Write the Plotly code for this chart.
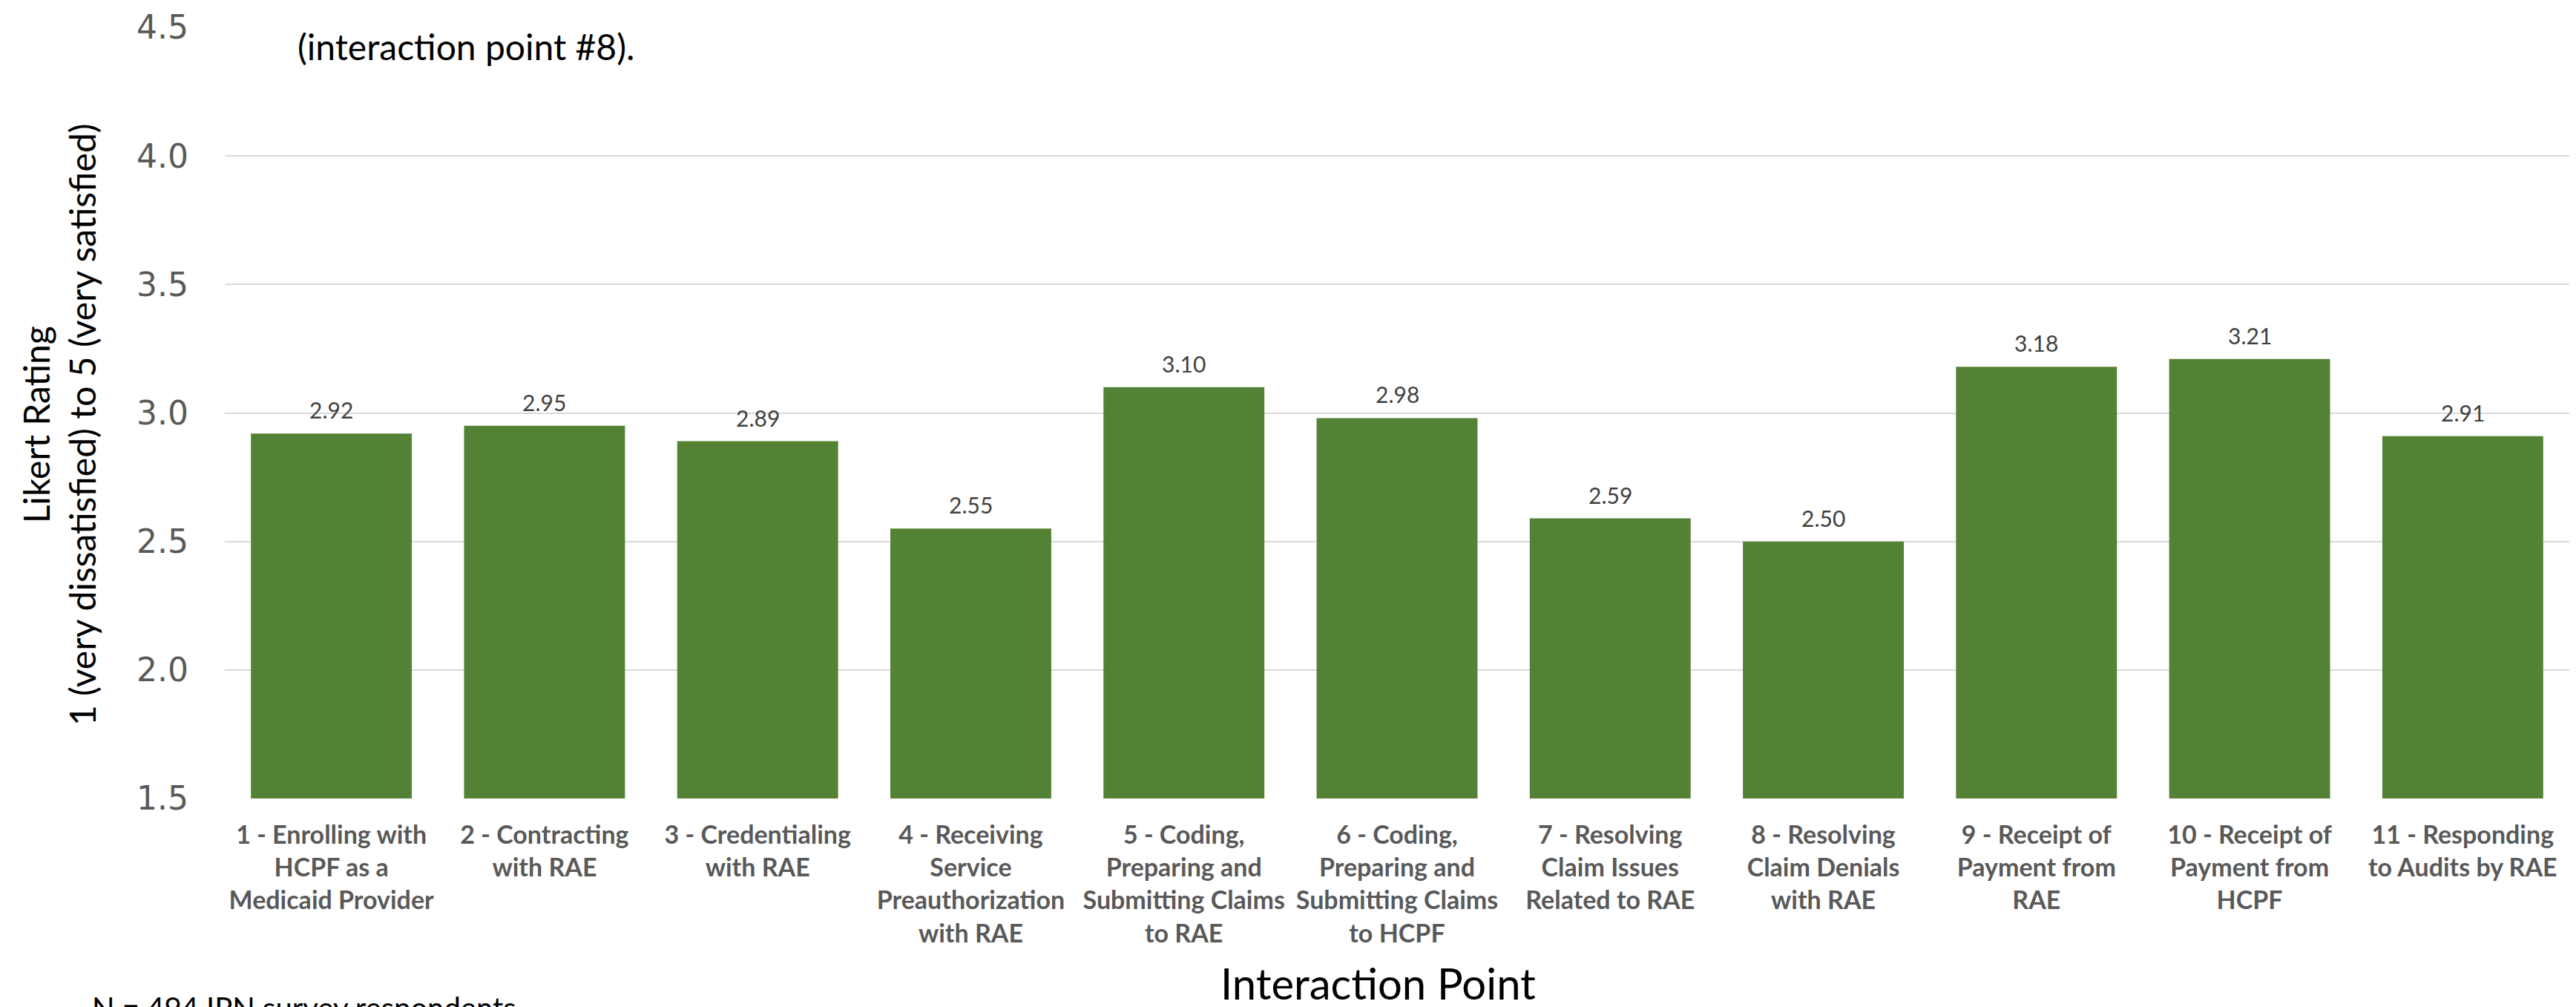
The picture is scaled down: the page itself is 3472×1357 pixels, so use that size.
import plotly.graph_objects as go

# Survey results: mean satisfaction per interaction point
categories = [
    "1 - Enrolling with<br>HCPF as a<br>Medicaid Provider",
    "2 - Contracting<br>with RAE",
    "3 - Credentialing<br>with RAE",
    "4 - Receiving<br>Service<br>Preauthorization<br>with RAE",
    "5 - Coding,<br>Preparing and<br>Submitting Claims<br>to RAE",
    "6 - Coding,<br>Preparing and<br>Submitting Claims<br>to HCPF",
    "7 - Resolving<br>Claim Issues<br>Related to RAE",
    "8 - Resolving<br>Claim Denials<br>with RAE",
    "9 - Receipt of<br>Payment from<br>RAE",
    "10 - Receipt of<br>Payment from<br>HCPF",
    "11 - Responding<br>to Audits by RAE",
]
mean_rating = [2.92, 2.95, 2.89, 2.55, 3.10, 2.98, 2.59, 2.50, 3.18, 3.21, 2.91]
y_ticks = [1.5, 2.0, 2.5, 3.0, 3.5, 4.0, 4.5]

AXIS_FLOOR = 1.5
BAR_GREEN = "#548235"
GRID = "#D9D9D9"
TEXT_FONT = "Lato, Calibri, Carlito, Liberation Sans, sans-serif"
NUM_FONT = "DejaVu Sans, Century Gothic, sans-serif"

positions = list(range(len(categories)))

fig = go.Figure()
# bars start at the axis floor, so heights are value - floor
fig.add_trace(go.Bar(
    x=positions,
    y=[v - AXIS_FLOOR for v in mean_rating],
    base=AXIS_FLOOR,
    marker=dict(color=BAR_GREEN, line=dict(width=0)),
    hoverinfo="skip",
))

annotations = []
# value labels above each bar
for xi, v in zip(positions, mean_rating):
    annotations.append(dict(
        x=xi, y=v, xref="x", yref="y",
        text=f"{v:.2f}", showarrow=False,
        yanchor="bottom", yshift=12,
        font=dict(family=TEXT_FONT, size=30, color="#404040"),
    ))

# heading (second line)
annotations.append(dict(
    x=0.0, y=1.0, xref="paper", yref="paper",
    text="(interaction point #8).", showarrow=False,
    xanchor="left", yanchor="middle", xshift=96, yshift=-25,
    font=dict(family=TEXT_FONT, size=48, color="#000000"),
))

# y-axis title
annotations.append(dict(
    x=0, y=0.485, xref="paper", yref="paper",
    text="Likert Rating<br>1 (very dissatisfied) to 5 (very satisfied)",
    showarrow=False, textangle=-90,
    xanchor="center", yanchor="middle", xshift=-224,
    font=dict(family=TEXT_FONT, size=48, color="#000000"),
))
# x-axis title
annotations.append(dict(
    x=0.5, y=0, xref="paper", yref="paper",
    text="Interaction Point", showarrow=False,
    xanchor="center", yanchor="top", xshift=-26, yshift=-212,
    font=dict(family=TEXT_FONT, size=58, color="#000000"),
))
# footnote
annotations.append(dict(
    x=0, y=0, xref="paper", yref="paper",
    text="N = 494 IPN survey respondents", showarrow=False,
    xanchor="left", yanchor="top", xshift=-181, yshift=-256,
    font=dict(family=TEXT_FONT, size=40, color="#000000"),
))

fig.update_layout(
    width=3472, height=1357,
    margin=dict(l=303, r=9, t=37, b=281),
    paper_bgcolor="#FFFFFF", plot_bgcolor="#FFFFFF",
    bargap=0.245,
    showlegend=False,
    annotations=annotations,
    xaxis=dict(
        range=[-0.5, len(categories) - 0.5],
        tickmode="array", tickvals=positions, ticktext=categories,
        tickfont=dict(family=TEXT_FONT, size=34, color="#595959", weight="bold"),
        showgrid=False, zeroline=False, showline=False,
        ticks="", ticklabelstandoff=26,
        fixedrange=True,
    ),
    yaxis=dict(
        range=[AXIS_FLOOR, 4.5],
        tickmode="array", tickvals=y_ticks,
        ticktext=[f"{t:.1f}" for t in y_ticks],
        tickfont=dict(family=NUM_FONT, size=44, color="#595959"),
        showgrid=True, gridcolor=GRID, gridwidth=2,
        zeroline=False, showline=False, ticks="",
        ticklabelstandoff=48,
        fixedrange=True,
    ),
)

# heading text sits on a white band across the top of the plot area
fig.add_shape(type="rect", xref="paper", yref="y",
              x0=0, x1=1, y0=4.42, y1=4.6,
              fillcolor="#FFFFFF", line=dict(width=0), layer="above")

fig.write_html("out.html")
